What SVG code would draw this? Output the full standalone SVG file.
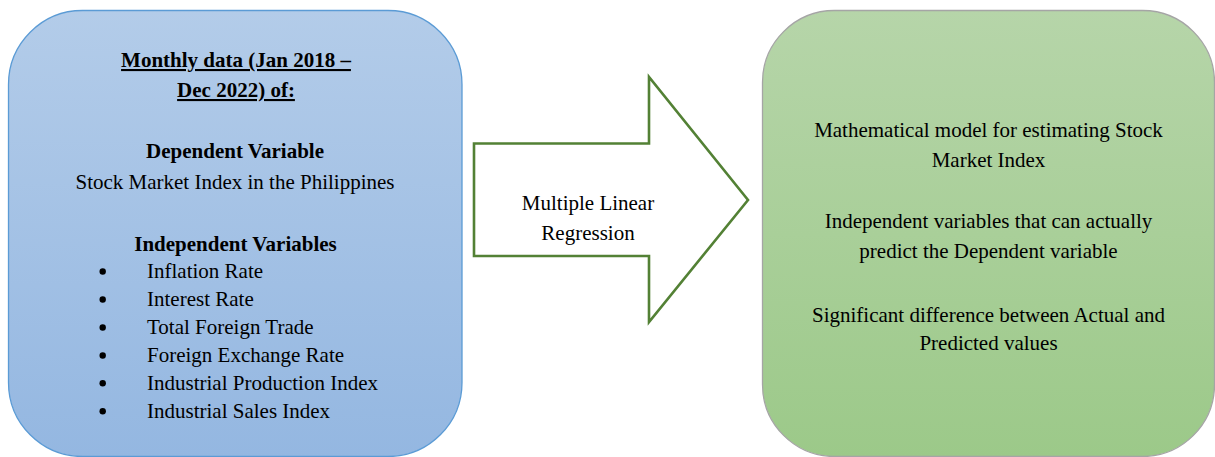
<svg xmlns="http://www.w3.org/2000/svg" width="1215" height="457" viewBox="0 0 1215 457">
  <style>
    text { font-family: "Liberation Serif", "Times New Roman", Tinos, "DejaVu Serif", serif; font-size: 21px; fill: #000; }
    .c { text-anchor: middle; }
    .b { font-weight: bold; }
    .u { text-decoration: underline; }
  </style>
  <defs>
    <linearGradient id="blueFill" x1="0" y1="0" x2="0" y2="1">
      <stop offset="0" stop-color="#b3cce9"/>
      <stop offset="1" stop-color="#94b7e1"/>
    </linearGradient>
    <linearGradient id="greenFill" x1="0" y1="0" x2="0" y2="1">
      <stop offset="0" stop-color="#b6d5a9"/>
      <stop offset="1" stop-color="#9cc989"/>
    </linearGradient>
  </defs>
  <rect width="1215" height="457" fill="#fff"/>

  <!-- input data -->
  <g id="input" font-family="Liberation Serif, serif">
    <rect x="8.5" y="10.5" width="453.5" height="446" rx="74" ry="74" fill="url(#blueFill)" stroke="#5b9bd5" stroke-width="1.3"/>
    <text class="c b u" x="236" y="67">Monthly data (Jan 2018 –</text>
    <text class="c b u" x="236" y="97">Dec 2022) of:</text>
    <text class="c b" x="235" y="158">Dependent Variable</text>
    <text class="c" x="235" y="189">Stock Market Index in the Philippines</text>
    <text class="c b" x="235.5" y="251">Independent Variables</text>
    <g fill="#000">
      <circle cx="102.7" cy="271.5" r="3.2"/>
      <circle cx="102.7" cy="299.5" r="3.2"/>
      <circle cx="102.7" cy="327.5" r="3.2"/>
      <circle cx="102.7" cy="355.5" r="3.2"/>
      <circle cx="102.7" cy="383.3" r="3.2"/>
      <circle cx="102.7" cy="411.2" r="3.2"/>
    </g>
    <text x="147" y="278.3">Inflation Rate</text>
    <text x="147" y="306.3">Interest Rate</text>
    <text x="147" y="334.3">Total Foreign Trade</text>
    <text x="147" y="362.3">Foreign Exchange Rate</text>
    <text x="147" y="390">Industrial Production Index</text>
    <text x="147" y="418">Industrial Sales Index</text>
  </g>

  <!-- method arrow -->
  <g id="connectors">
    <g id="method">
      <path d="M474,143.5 H649 V77 L748,200 L649,322 V256 H474 Z" fill="#fff" stroke="#538135" stroke-width="2.6" stroke-linejoin="miter"/>
      <text class="c" x="588" y="210">Multiple Linear</text>
      <text class="c" x="588" y="240">Regression</text>
    </g>
  </g>

  <!-- outputs -->
  <g id="output">
    <rect x="762.5" y="10.5" width="452" height="446" rx="72" ry="72" fill="url(#greenFill)" stroke="#a5a5a5" stroke-width="1.3"/>
    <text class="c" x="988.5" y="136.7">Mathematical model for estimating Stock</text>
    <text class="c" x="988.5" y="166.7">Market Index</text>
    <text class="c" x="988.5" y="228.3">Independent variables that can actually</text>
    <text class="c" x="988.5" y="258">predict the Dependent variable</text>
    <text class="c" x="988.5" y="321.7">Significant difference between Actual and</text>
    <text class="c" x="988.5" y="350">Predicted values</text>
  </g>
</svg>
